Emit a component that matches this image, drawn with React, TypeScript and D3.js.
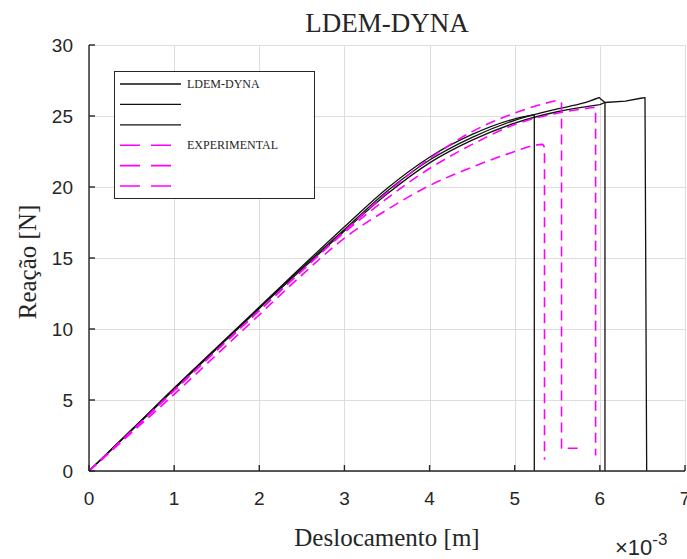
import React, { useRef, useEffect } from "react";
import * as d3 from "d3";

// displacement in units of 10^-3 m, reaction in N
const ldem1Disp = [0, 0.5, 1, 1.5, 2, 2.5, 3, 3.5, 4, 4.5, 5, 5.23, 5.23];
const ldem1Force = [0, 2.9, 5.85, 8.7, 11.55, 14.4, 17.2, 19.9, 22.1, 23.7, 24.8, 25.1, 0];

const ldem2Disp = [0, 0.5, 1, 1.5, 2, 2.5, 3, 3.5, 4, 4.5, 5, 5.5, 5.8, 5.99, 6.06, 6.06];
const ldem2Force = [0, 2.9, 5.8, 8.65, 11.5, 14.3, 17.0, 19.7, 21.9, 23.5, 24.7, 25.5, 25.9, 26.3, 25.95, 0];

const ldem3Disp = [0, 0.5, 1, 1.5, 2, 2.5, 3, 3.5, 4, 4.5, 5, 5.5, 6, 6.06, 6.3, 6.48, 6.53, 6.55];
const ldem3Force = [0, 2.85, 5.75, 8.6, 11.45, 14.2, 16.9, 19.5, 21.7, 23.3, 24.5, 25.3, 25.8, 25.95, 26.05, 26.25, 26.3, 0];

const expADisp = [0, 0.5, 1, 1.5, 2, 2.5, 3, 3.5, 4, 4.5, 5, 5.3, 5.5, 5.55, 5.55, 5.77];
const expAForce = [0, 2.8, 5.7, 8.5, 11.3, 14.1, 16.9, 19.6, 22.0, 23.9, 25.2, 25.8, 26.1, 25.9, 1.6, 1.6];

const expBDisp = [0, 0.5, 1, 1.5, 2, 2.5, 3, 3.5, 4, 4.5, 5, 5.5, 5.8, 5.95, 5.95];
const expBForce = [0, 2.8, 5.65, 8.5, 11.3, 14.1, 16.8, 19.2, 21.3, 23.0, 24.4, 25.2, 25.5, 25.6, 1.1];

const expCDisp = [0, 0.5, 1, 1.5, 2, 2.5, 3, 3.5, 4, 4.5, 5, 5.2, 5.33, 5.35, 5.35];
const expCForce = [0, 2.7, 5.4, 8.2, 11.0, 13.8, 16.4, 18.4, 20.1, 21.4, 22.5, 22.9, 23.0, 22.8, 0.8];

// how many leading points are drawn smooth (the rest is straight segments)
const smoothCounts = [12, 14, 13, 13, 14, 13];

const xTicks = [0, 1, 2, 3, 4, 5, 6, 7];
const yTicks = [0, 5, 10, 15, 20, 25, 30];
const legendLabels = ["LDEM-DYNA", "", "", "EXPERIMENTAL", "", ""];

const App: React.FC = () => {
  const svgRef = useRef<SVGSVGElement>(null);

  useEffect(() => {
    document.body.style.margin = "0";
    const width = 687;
    const height = 559;
    const svg = d3.select(svgRef.current);
    svg.selectAll("*").remove();

    const x = d3.scaleLinear().domain([0, 7]).range([89, 685]);
    const y = d3.scaleLinear().domain([0, 30]).range([471, 45]);

    const ink = "#262626";
    const magenta = "#ff00ff";
    const serif = "'Liberation Serif', 'Times New Roman', serif";
    const sans = "'Liberation Sans', Arial, sans-serif";

    svg.append("rect").attr("width", width).attr("height", height).attr("fill", "#fff");

    // grid
    const grid = svg.append("g").attr("stroke", "#dedede").attr("stroke-width", 1);
    xTicks.forEach((t) => {
      grid.append("line")
        .attr("x1", Math.round(x(t)) + 0.5).attr("x2", Math.round(x(t)) + 0.5)
        .attr("y1", y(0)).attr("y2", y(30));
    });
    yTicks.forEach((t) => {
      grid.append("line")
        .attr("x1", x(0)).attr("x2", x(7))
        .attr("y1", Math.round(y(t)) + 0.5).attr("y2", Math.round(y(t)) + 0.5);
    });

    // series
    const series = [
      { d: ldem1Disp, f: ldem1Force, color: "#111", dash: null, w: 1.3 },
      { d: ldem2Disp, f: ldem2Force, color: "#111", dash: null, w: 1.3 },
      { d: ldem3Disp, f: ldem3Force, color: "#111", dash: null, w: 1.3 },
      { d: expADisp, f: expAForce, color: magenta, dash: "10,6", w: 1.6 },
      { d: expBDisp, f: expBForce, color: magenta, dash: "10,6", w: 1.6 },
      { d: expCDisp, f: expCForce, color: magenta, dash: "10,6", w: 1.6 },
    ];

    const smooth = d3.line<[number, number]>()
      .x((p) => x(p[0])).y((p) => y(p[1]))
      .curve(d3.curveMonotoneX);
    const straight = d3.line<[number, number]>()
      .x((p) => x(p[0])).y((p) => y(p[1]));

    const plot = svg.append("g");
    series.forEach((s, i) => {
      const pts: [number, number][] = s.d.map((v, k) => [v, s.f[k]]);
      const n = smoothCounts[i];
      const head = smooth(pts.slice(0, n)) || "";
      const tail = (straight(pts.slice(n - 1)) || "").replace(/^M/, "L");
      plot.append("path")
        .attr("d", head + tail)
        .attr("fill", "none")
        .attr("stroke", s.color)
        .attr("stroke-width", s.w)
        .attr("stroke-dasharray", s.dash)
        .attr("stroke-linejoin", "round");
    });

    // axes (inward ticks, no box)
    const axes = svg.append("g").attr("stroke", ink).attr("stroke-width", 1.4);
    axes.append("line").attr("x1", x(0)).attr("x2", x(0)).attr("y1", y(0)).attr("y2", y(30));
    axes.append("line").attr("x1", x(0)).attr("x2", x(7)).attr("y1", y(0)).attr("y2", y(0));
    xTicks.forEach((t) => {
      axes.append("line").attr("x1", x(t)).attr("x2", x(t)).attr("y1", y(0)).attr("y2", y(0) - 6);
    });
    yTicks.forEach((t) => {
      axes.append("line").attr("x1", x(0)).attr("x2", x(0) + 6).attr("y1", y(t)).attr("y2", y(t));
    });

    // tick labels
    xTicks.forEach((t) => {
      svg.append("text")
        .attr("x", x(t)).attr("y", 505)
        .attr("text-anchor", "middle")
        .attr("font-family", sans).attr("font-size", 19).attr("fill", ink)
        .text(t);
    });
    yTicks.forEach((t) => {
      svg.append("text")
        .attr("x", 73).attr("y", y(t)).attr("dy", "0.35em")
        .attr("text-anchor", "end")
        .attr("font-family", sans).attr("font-size", 19).attr("fill", ink)
        .text(t);
    });

    // exponent
    const expo = svg.append("text")
      .attr("x", 615).attr("y", 555)
      .attr("font-family", sans).attr("fill", ink);
    expo.append("tspan").attr("font-size", 22).text("×10");
    expo.append("tspan").attr("font-size", 17).attr("dy", -10).text("-3");

    // titles
    svg.append("text")
      .attr("x", 387).attr("y", 32).attr("text-anchor", "middle")
      .attr("font-family", serif).attr("font-size", 27).attr("fill", ink)
      .text("LDEM-DYNA");
    svg.append("text")
      .attr("x", 387).attr("y", 546).attr("text-anchor", "middle")
      .attr("font-family", serif).attr("font-size", 25).attr("fill", ink)
      .text("Deslocamento [m]");
    svg.append("text")
      .attr("transform", "translate(36,262) rotate(-90)")
      .attr("text-anchor", "middle")
      .attr("font-family", serif).attr("font-size", 25).attr("fill", ink)
      .text("Reação [N]");

    // legend
    const lg = svg.append("g");
    lg.append("rect")
      .attr("x", 114.5).attr("y", 71.5).attr("width", 200).attr("height", 127)
      .attr("fill", "#fff").attr("stroke", ink).attr("stroke-width", 1);
    const rowY = d3.scaleLinear().domain([0, 5]).range([84, 186]);
    series.forEach((s, i) => {
      lg.append("line")
        .attr("x1", 120).attr("x2", 181)
        .attr("y1", rowY(i)).attr("y2", rowY(i))
        .attr("stroke", s.color).attr("stroke-width", s.w)
        .attr("stroke-dasharray", s.dash ? "20,11" : null);
      if (legendLabels[i]) {
        lg.append("text")
          .attr("x", 187).attr("y", rowY(i)).attr("dy", "0.35em")
          .attr("font-family", serif).attr("font-size", 12).attr("fill", ink)
          .text(legendLabels[i]);
      }
    });
  }, []);

  return <svg ref={svgRef} width={687} height={559} style={{ display: "block" }}></svg>;
};

export default App;
